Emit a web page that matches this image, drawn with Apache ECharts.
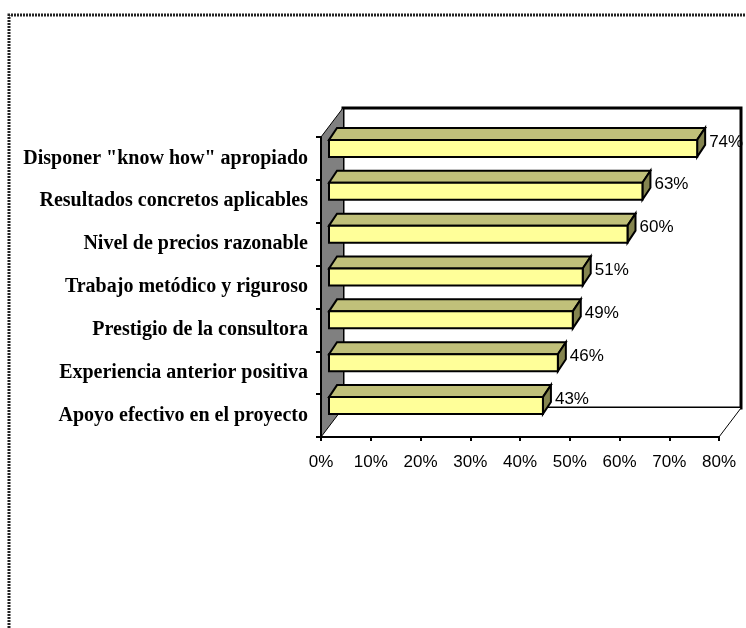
<!DOCTYPE html>
<html>
<head>
<meta charset="utf-8">
<script src="https://cdn.jsdelivr.net/npm/echarts@6/dist/echarts.min.js"></script>
<style>
  html, body { margin: 0; padding: 0; background: #fff; }
  #chart { width: 746px; height: 628px; }
</style>
</head>
<body>
<div id="chart"></div>
<script>
// Survey factors, listed top to bottom
const categories = [
  'Disponer "know how" apropiado',
  'Resultados concretos aplicables',
  'Nivel de precios razonable',
  'Trabajo metódico y riguroso',
  'Prestigio de la consultora',
  'Experiencia anterior positiva',
  'Apoyo efectivo en el proyecto'
];
// Share of respondents (%)
const values = [74, 63, 60, 51, 49, 46, 43];
// Value axis ticks (%)
const axisMin = 0;
const axisMax = 80;
const axisStep = 10;

// 3D look: depth of the box walls and of the bars, in pixels
const WALL_DX = 22, WALL_DY = -29;
const BAR_SHIFT_X = 8, BAR_SHIFT_Y = -10;
const BAR_DX = 8, BAR_DY = -12;
const BAR_FACE_H = 17;

const FRONT = '#FFFF99';
const TOP = '#C0C07A';
const SIDE = '#84844F';

const chart = echarts.init(document.getElementById('chart'), null, { renderer: 'canvas' });

function renderWalls(params, api) {
  const cs = params.coordSys;
  const x = cs.x, y = cs.y, w = cs.width, h = cs.height;
  const bx = x + WALL_DX, by = y + WALL_DY;
  return {
    type: 'group',
    children: [
      // back wall
      { type: 'rect', shape: { x: bx, y: by, width: w, height: h },
        style: { fill: '#fff', stroke: '#000', lineWidth: 3 } },
      // floor
      { type: 'polygon', shape: { points: [[x, y + h], [bx, by + h], [bx + w, by + h], [x + w, y + h]] },
        style: { fill: '#fff', stroke: null } },
      { type: 'line', shape: { x1: x + w, y1: y + h, x2: bx + w, y2: by + h },
        style: { stroke: '#000', lineWidth: 1 } },
      // side wall
      { type: 'polygon', shape: { points: [[x, y], [bx, by], [bx, by + h], [x, y + h]] },
        style: { fill: '#808080', stroke: null } },
      { type: 'line', shape: { x1: x, y1: y, x2: bx, y2: by },
        style: { stroke: '#000', lineWidth: 1 } },
      { type: 'line', shape: { x1: x, y1: y + h, x2: bx, y2: by + h },
        style: { stroke: '#000', lineWidth: 1 } }
    ]
  };
}

function renderBar(params, api) {
  const idx = api.value(1);
  const v = api.value(0);
  const p0 = api.coord([0, idx]);
  const p1 = api.coord([v, idx]);
  const x0 = p0[0] + BAR_SHIFT_X;
  const x1 = p1[0] + BAR_SHIFT_X;
  const yc = p0[1] + BAR_SHIFT_Y;
  const yt = yc - BAR_FACE_H / 2;
  const yb = yc + BAR_FACE_H / 2;
  const line = { stroke: '#000', lineWidth: 2, lineJoin: 'miter' };
  return {
    type: 'group',
    children: [
      { type: 'polygon',
        shape: { points: [[x0, yt], [x0 + BAR_DX, yt + BAR_DY], [x1 + BAR_DX, yt + BAR_DY], [x1, yt]] },
        style: Object.assign({ fill: TOP }, line) },
      { type: 'polygon',
        shape: { points: [[x1, yt], [x1 + BAR_DX, yt + BAR_DY], [x1 + BAR_DX, yb + BAR_DY], [x1, yb]] },
        style: Object.assign({ fill: SIDE }, line) },
      { type: 'rect',
        shape: { x: x0, y: yt, width: x1 - x0, height: yb - yt },
        style: Object.assign({ fill: FRONT }, line) },
      { type: 'text',
        x: x1 + BAR_DX + 4, y: yt + 2,
        style: { text: v + '%', fill: '#000', font: '17px "Liberation Sans", Arial, sans-serif',
                 align: 'left', verticalAlign: 'middle' } }
    ]
  };
}

const option = {
  animation: false,
  backgroundColor: '#fff',
  grid: { left: 321, top: 137, width: 398, height: 300 },
  xAxis: {
    type: 'value', min: axisMin, max: axisMax, interval: axisStep, z: 10,
    axisLine: { show: true, lineStyle: { color: '#000', width: 2 } },
    axisTick: { show: true, length: 4, lineStyle: { color: '#000', width: 2 } },
    splitLine: { show: false },
    axisLabel: { formatter: '{value}%', color: '#000', fontSize: 17,
                 fontFamily: '"Liberation Sans", Arial, sans-serif', margin: 17 }
  },
  yAxis: {
    type: 'category', data: categories, inverse: true, z: 10,
    axisLine: { show: true, lineStyle: { color: '#000', width: 2 } },
    axisTick: { show: true, length: 5, lineStyle: { color: '#000', width: 2 } },
    axisLabel: { color: '#000', fontSize: 20, fontWeight: 'bold', padding: [6, 0, 0, 0],
                 fontFamily: '"Liberation Serif", "Times New Roman", serif', margin: 13 }
  },
  graphic: [
    { type: 'polyline', shape: { points: [[9, 640], [9, 15], [760, 15]] },
      style: { stroke: '#222', lineWidth: 3, lineDash: [2, 1], fill: null }, silent: true }
  ],
  series: [
    { type: 'custom', name: 'walls', z: 1, data: [[0, 0]],
      encode: { x: 0, y: 1 }, renderItem: renderWalls },
    { type: 'custom', name: 'bars', z: 2,
      data: values.map((v, i) => [v, i]),
      encode: { x: 0, y: 1 }, renderItem: renderBar }
  ]
};

chart.setOption(option);
</script>
</body>
</html>
